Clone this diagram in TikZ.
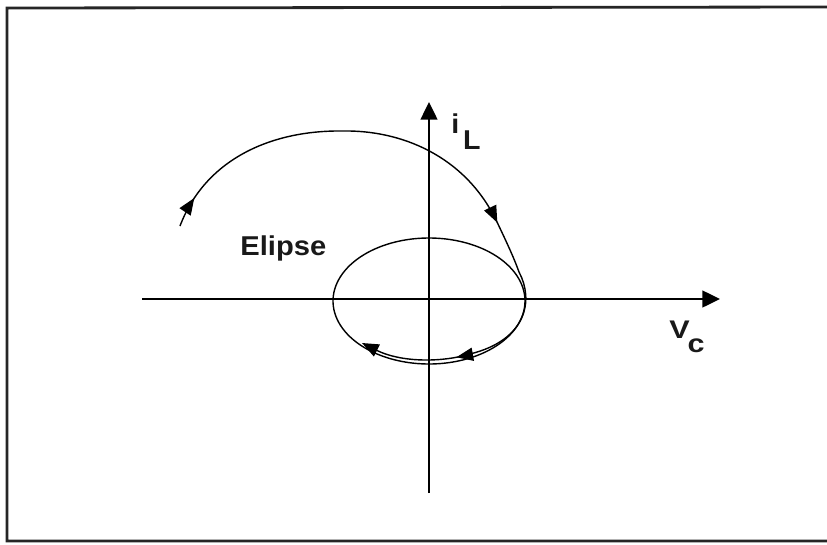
\documentclass[tikz,border=0pt]{standalone}
\usepackage{fontspec}
\setmainfont{Liberation Sans}
\usetikzlibrary{arrows.meta,decorations.markings}
\begin{document}
\begin{tikzpicture}[x=0.02cm,y=-0.02cm,
  frameline/.style={line width=1.6pt,black!85},
  axisline/.style={line width=1.2pt,-{Triangle[length=10pt,width=9.5pt]}},
  curveline/.style={line width=0.8pt},
  lbl/.style={inner sep=0pt,font=\bfseries\fontsize{15.5}{18}\selectfont,text=black!90}]
\useasboundingbox (0,0) rectangle (827,544);
\clip (0,0) rectangle (827,544);
% frame
\draw[frameline] (840,7) -- (7,8) -- (7,541) -- (840,541);
% axes
\coordinate (hl) at (142,299);
\coordinate (hr) at (720,299);
\coordinate (vb) at (429,493);
\coordinate (vt) at (429,102);
\draw[axisline] (hl) -- (hr);
\draw[axisline] (vb) -- (vt);
% ellipse
\coordinate (O) at (429,301);
\draw[curveline] plot[domain=0:360,samples=120,smooth] ({429+96*cos(\x)},{301-63*sin(\x)});
% trajectory
\coordinate (s0) at (180,226);
\coordinate (s1) at (343,131);
\coordinate (s2) at (497,222);
\coordinate (s3) at (519,272);
\coordinate (s4) at (470,354);
\coordinate (s5) at (362,343);
\draw[curveline,
  -{Triangle[length=9.5pt,width=7.5pt]},
  postaction={decorate},
  decoration={markings,
    mark=at position 0.047 with {\arrow{Triangle[length=9.5pt,width=7.5pt]}},
    mark=at position 0.585 with {\arrow{Triangle[length=9.5pt,width=7.5pt]}},
    mark=at position 0.855 with {\arrow{Triangle[length=9.5pt,width=7.5pt]}}}]
  (s0) .. controls (205,160) and (270,130) .. (s1)
       .. controls (400,130) and (465,155) .. (s2)
       .. controls (507,243) and (514,258) .. (s3)
       .. controls (534,300) and (527,340) .. (s4)
       .. controls (440,363) and (400,362) .. (s5);
% labels
\node[lbl,anchor=base west,xscale=1.07] (elipse) at (240,255) {Elipse};
\node[lbl,anchor=base west,xscale=1.05] (iL) at (451,133) {i\hspace{2pt}\raisebox{-9.6pt}{L}};
\node[lbl,anchor=base west,xscale=1.2,font=\bfseries\fontsize{14.5}{17}\selectfont] (Vc) at (669,338) {V\hspace{-1pt}\raisebox{-8.5pt}{c}};
\end{tikzpicture}
\end{document}
